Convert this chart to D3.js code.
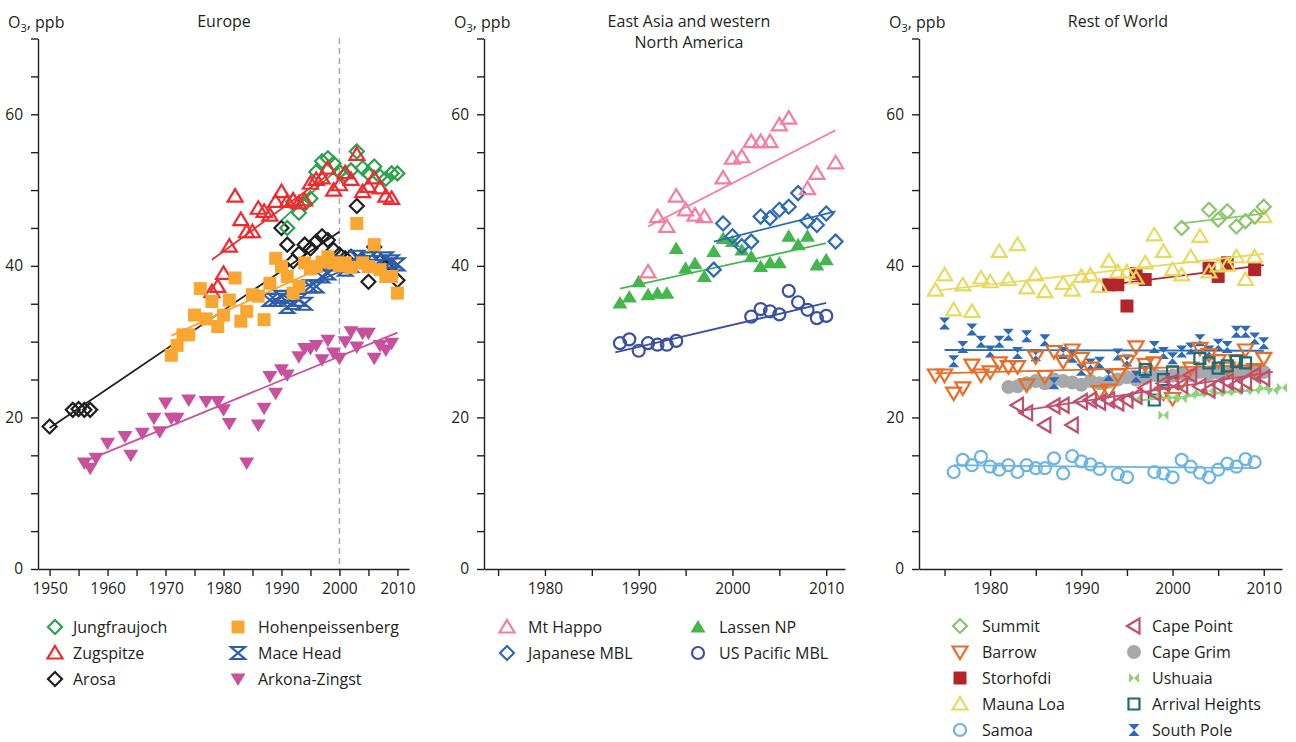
<!DOCTYPE html>
<html><head><meta charset="utf-8">
<script src="https://cdn.jsdelivr.net/npm/d3@7"></script>
<style>
body{margin:0;background:#fff}
text{font-family:"Open Sans","Noto Sans",sans-serif;fill:#231f20}
</style>
</head><body>
<svg id="c" width="1296" height="742"></svg>
<script>
// ---------- DATA ----------
// Europe
const jungfraujoch = [[1991,45],[1992,48.5],[1993,47],[1994,48.2],[1995,48.9],[1996,52.4],[1997,53.8],[1998,54.2],[1999,53.5],[2000,52.4],[2001,52],[2002,52.6],[2003,55.1],[2004,52.9],[2005,52.2],[2006,53.1],[2007,51.8],[2008,51.5],[2009,52.2],[2010,52.2]];
const zugspitze = [[1978,36.6],[1979,37.3],[1980,39],[1981,42.6],[1982,49.2],[1983,46.1],[1984,44.5],[1985,44.5],[1986,47.6],[1987,47.2],[1988,46.7],[1989,48.5],[1990,49.8],[1991,48.5],[1992,48.7],[1993,48.3],[1994,48.7],[1995,50.9],[1996,51.4],[1997,51.6],[1998,52.9],[1999,50],[2000,50.7],[2001,52.3],[2002,51.4],[2003,54.7],[2004,49.8],[2005,50.5],[2006,51.6],[2007,50.3],[2008,49.2],[2009,48.9]];
const arosa = [[1950,18.8],[1954,21],[1955,21.1],[1956,21],[1957,21],[1990,45],[1991,42.8],[1992,40.6],[1993,41.6],[1994,42.8],[1995,42.3],[1996,43.2],[1997,43.9],[1998,43.4],[1999,42.1],[2000,41.5],[2001,41],[2002,41.2],[2003,47.9],[2004,40.6],[2005,37.9],[2006,42.5],[2007,40.5],[2008,39.9],[2009,40],[2010,38.1]];
const hohenpeissenberg = [[1971,28.2],[1972,29.5],[1973,30.9],[1974,30.9],[1975,33.5],[1976,37],[1977,33],[1978,35.3],[1979,32],[1980,33.5],[1981,35.5],[1982,38.4],[1983,32.7],[1984,34],[1985,36.2],[1986,36],[1987,32.9],[1988,37.7],[1989,41],[1990,39.9],[1991,38.6],[1992,36.4],[1993,37.3],[1994,40.4],[1995,39.6],[1996,39.9],[1997,40.5],[1998,41.2],[1999,40.4],[2000,40],[2001,40.4],[2002,39.8],[2003,45.6],[2004,40.4],[2005,39.9],[2006,42.8],[2007,39.5],[2008,38.6],[2009,38.6],[2010,36.4]];
const maceHead = [[1988,35.5],[1989,35.5],[1990,35.9],[1991,34.6],[1992,35.1],[1993,35.5],[1994,35],[1995,37.3],[1996,37.3],[1997,38.6],[1998,39],[1999,40.5],[2000,40.2],[2001,39.5],[2002,40],[2003,41.2],[2004,40.5],[2005,41],[2006,40],[2007,40.5],[2008,41],[2009,40.6],[2010,40.2]];
const arkonaZingst = [[1956,14],[1957,13.3],[1958,14.6],[1960,16.6],[1963,17.5],[1964,15],[1966,17.9],[1968,19.9],[1969,18.1],[1970,21.9],[1971,19.9],[1972,19.9],[1974,22.3],[1977,22.1],[1979,22.1],[1980,21],[1981,19.2],[1984,14],[1986,19],[1987,21.2],[1988,25.4],[1989,23.2],[1990,26.3],[1991,25.6],[1993,28],[1994,29.1],[1995,29.1],[1996,29.5],[1997,27.6],[1998,30.2],[1999,28.5],[2000,27.8],[2001,30],[2002,31.3],[2003,29.3],[2004,31.1],[2005,31.1],[2006,27.8],[2007,29.5],[2008,28.9],[2009,29.8]];
const arosaTrend = [[1950,18.6],[2000,44.5]];
const jungfraujochTrend = [[1990,46],[2000,53]];
const zugspitzeTrend = [[1978,40.8],[1998,52]];
const hohenpeissenbergTrend = [[1971,30.8],[2000,40.8]];
const maceHeadTrend = [[1988,35.3],[2000,39.2]];
const maceHeadTrend2 = [[2000,40.3],[2010,41]];
const arkonaZingstTrend = [[1957,14.5],[2010,31.2]];

// East Asia and western North America
const mtHappo = [[1991,39.2],[1992,46.5],[1993,45.2],[1994,49.2],[1995,47.4],[1996,46.7],[1997,46.5],[1999,51.6],[2000,54.2],[2001,54.4],[2002,56.4],[2003,56.4],[2004,56.4],[2005,58.6],[2006,59.5],[2008,50.2],[2009,52.2],[2011,53.6]];
const japaneseMBL = [[1998,39.5],[1999,45.6],[2000,43.9],[2001,42.6],[2002,43.2],[2003,46.5],[2004,46.3],[2005,47.4],[2006,47.8],[2007,49.6],[2008,45.9],[2009,45.4],[2010,46.9],[2011,43.2]];
const lassenNP = [[1988,35.1],[1989,35.9],[1990,37.9],[1991,36.2],[1992,36.4],[1993,36.4],[1994,42.3],[1995,39.7],[1996,40.3],[1997,38.6],[1998,41.9],[1999,43.6],[2000,43.2],[2001,42.1],[2002,41.2],[2003,39.9],[2004,40.4],[2005,40.4],[2006,43.9],[2007,42.8],[2008,43.9],[2009,40.1],[2010,40.8]];
const usPacificMBL = [[1988,29.8],[1989,30.3],[1990,28.8],[1991,29.8],[1992,29.6],[1993,29.6],[1994,30.1],[2002,33.3],[2003,34.3],[2004,34],[2005,33.6],[2006,36.7],[2007,35.2],[2008,34.2],[2009,33.1],[2010,33.4]];
const mtHappoTrend = [[1991,45.2],[2011,57.9]];
const japaneseMBLTrend = [[1998,43.2],[2011,47.2]];
const lassenNPTrend = [[1988,37],[2010,43]];
const usPacificMBLTrend = [[1987.5,28.6],[2010,35.1]];

// Rest of World
const summit = [[2001,45],[2004,47.4],[2005,46.1],[2006,47.2],[2007,45.2],[2008,45.9],[2009,46.5],[2010,47.8]];
const barrow = [[1974,25.6],[1975,25.6],[1976,23.2],[1977,23.9],[1978,26.9],[1979,25.6],[1980,26],[1981,27.2],[1982,26.7],[1983,26.7],[1984,24.3],[1985,28],[1986,25.4],[1987,28.7],[1988,27.4],[1989,28.9],[1990,27.8],[1991,26.5],[1992,23.4],[1993,23.6],[1994,25.6],[1995,27.4],[1996,29.3],[1997,27],[1998,27.2],[1999,23.2],[2000,22.5],[2001,24.7],[2002,26.5],[2003,29.1],[2004,28.3],[2005,27.5],[2006,26.5],[2007,27.5],[2008,28.9],[2009,26.3],[2010,27.8]];
const storhofdi = [[1993,37.5],[1994,37.5],[1995,34.7],[1996,39],[1997,38.2],[2004,39.7],[2005,38.6],[2006,40.4],[2009,39.5]];
const maunaLoa = [[1974,36.8],[1975,38.8],[1976,34.2],[1977,37.5],[1978,34],[1979,38.4],[1980,37.9],[1981,41.9],[1982,38.2],[1983,42.8],[1984,37.1],[1985,38.8],[1986,36.6],[1988,37.7],[1989,36.8],[1990,38.6],[1991,38.8],[1992,37.3],[1993,40.6],[1994,39.2],[1995,39.2],[1996,38.4],[1997,40.4],[1998,44.1],[1999,41.9],[2000,39.5],[2001,38.8],[2002,41.2],[2003,43.9],[2004,39.2],[2005,40],[2006,40.1],[2007,41.2],[2008,38.2],[2009,41.2],[2010,46.5]];
const samoa = [[1976,12.8],[1977,14.4],[1978,13.7],[1979,14.8],[1980,13.5],[1981,13.1],[1982,13.7],[1983,12.8],[1984,13.7],[1985,13.3],[1986,13.3],[1987,14.6],[1988,12.6],[1989,14.9],[1990,14.2],[1991,13.8],[1992,13.2],[1994,12.5],[1995,12.1],[1998,12.8],[1999,12.6],[2000,12.1],[2001,14.4],[2002,13.5],[2003,12.7],[2004,12.1],[2005,13.1],[2006,13.9],[2007,13.5],[2008,14.5],[2009,14.1]];
const capePoint = [[1983,21.6],[1984,20.6],[1986,19],[1987,21.5],[1988,21.6],[1989,19],[1990,22.1],[1991,22.3],[1992,22],[1993,22.3],[1994,21.9],[1995,22.3],[1996,22.8],[1997,23.9],[1998,23.2],[1999,24.5],[2000,24.7],[2001,24.2],[2002,25.6],[2003,24.1],[2004,23.6],[2005,24.3],[2006,24.7],[2007,24.3],[2008,24.7],[2009,25.6],[2010,25.2]];
const capeGrim = [[1982,24],[1983,24.1],[1984,24.5],[1985,24.8],[1986,24.5],[1987,25],[1988,24.8],[1989,24.6],[1990,24.3],[1991,24.8],[1992,24.5],[1993,24.7],[1994,25],[1995,25.3],[1996,25],[1997,25.2],[1998,25.6],[1999,25.4],[2000,25.5],[2001,25.8],[2002,25.6],[2003,26],[2004,25.7],[2005,25.9],[2006,26],[2007,25.8],[2008,26.1],[2009,26.2],[2010,26]];
const ushuaia = [[1996,22.5],[1998,22.8],[1999,20.3],[2000,22.6],[2001,22.5],[2002,23],[2003,23.2],[2004,23.5],[2005,23.3],[2006,23.4],[2007,23.5],[2008,23.6],[2009,23.6],[2010,23.9],[2011,23.6],[2012,23.9]];
const arrivalHeights = [[1997,26.3],[1998,22.3],[1999,25],[2000,26],[2003,27.8],[2004,27.2],[2005,26.5],[2006,26.8],[2007,27.4],[2008,27.2]];
const southPole = [[1975,32.4],[1976,27.4],[1977,29.3],[1978,31.6],[1979,30],[1980,28.7],[1981,30],[1982,30.9],[1983,28.5],[1984,30.7],[1985,28.2],[1986,30.2],[1987,24.5],[1988,28.5],[1989,28],[1990,26.3],[1991,27],[1992,27.2],[1993,25.6],[1994,28.3],[1995,27.5],[1996,25.4],[1997,26],[1998,29.3],[1999,28.5],[2000,27.8],[2001,28.7],[2002,29.1],[2003,30.2],[2004,28.7],[2005,29.6],[2006,29.3],[2007,31.3],[2008,31.3],[2009,30.4],[2010,29.8]];
const summitTrend = [[2001,45.6],[2010,46.9]];
const barrowTrend = [[1974,25.8],[2010,26.9]];
const storhofdiTrend = [[1993,37.5],[2010,40.1]];
const maunaLoaTrend = [[1974.5,36.8],[2010,41.6]];
const samoaTrend = [[1976,13.7],[2009,13.3]];
const capePointTrend = [[1983,20.8],[2011,26]];
const capeGrimTrend = [[1982,24.3],[2010,26]];
const ushuaiaTrend = [[1996,22.2],[2011,23.8]];
const southPoleTrend = [[1975,28.9],[2010,28.8]];

const yTicks = [0,5,10,15,20,25,30,35,40,45,50,55,60,65,70];
const yTickLabels = [0,20,40,60];

// ---------- DRAWING ----------
const svg = d3.select('#c');
const y = d3.scaleLinear().domain([0,70]).range([569,38.5]);

const shapes = {
  diamond: 'M0,-7L7,0L0,7L-7,0Z',
  triUp: 'M0,-7L7.5,5.5L-7.5,5.5Z',
  triDown: 'M0,7L7.5,-5.5L-7.5,-5.5Z',
  triLeft: 'M-7,0L5.5,-7.5L5.5,7.5Z',
  square: 'M-6.5,-6.5H6.5V6.5H-6.5Z',
  squareOpen: 'M-5.5,-5.5H5.5V5.5H-5.5Z',
  circle: 'M-6,0a6,6 0 1,0 12,0a6,6 0 1,0 -12,0',
  dot: 'M-7,0a7,7 0 1,0 14,0a7,7 0 1,0 -14,0',
  hourglass: 'M-7,-6L7,-6L-7,6L7,6Z',
  hourglassSmall: 'M-5.5,-6L5.5,-6L-5.5,6L5.5,6Z',
  bowtie: 'M-5,-5L-5,5L5,-5L5,5Z'
};

function drawSeries(g, x, s) {
  const gg = g.append('g');
  gg.selectAll('path.m').data(s.data).join('path').attr('class','m')
    .attr('transform', d => `translate(${x(d[0])},${y(d[1])})`)
    .attr('d', shapes[s.shape])
    .attr('fill', s.filled ? s.color : 'none')
    .attr('stroke', s.filled ? 'none' : s.color)
    .attr('stroke-width', 2.2)
    .attr('stroke-linejoin','miter');
  (s.trends || []).forEach(t => {
    gg.append('path').datum(t)
      .attr('d', d3.line().x(d => x(d[0])).y(d => y(d[1])))
      .attr('fill','none').attr('stroke', s.trendColor || s.color).attr('stroke-width',1.8);
  });
}

function legendMark(g, s, cx, cy, label, tx) {
  g.append('path').attr('transform',`translate(${cx},${cy})`).attr('d', shapes[s.shape])
    .attr('fill', s.filled ? s.color : 'none')
    .attr('stroke', s.filled ? 'none' : s.color).attr('stroke-width', 2.2);
  g.append('text').attr('x', tx).attr('y', cy + 5.5).attr('font-size', 16).text(label);
}

function panel(cfg) {
  const g = svg.append('g');
  const x = d3.scaleLinear().domain(cfg.domain).range(cfg.range);
  const ya = d3.axisLeft(y).tickValues(yTicks).tickSize(7).tickSizeOuter(0)
    .tickFormat(d => yTickLabels.includes(d) ? d : '');
  const yg = g.append('g').attr('transform',`translate(${cfg.range[0]},0)`).call(ya);
  yg.selectAll('text').attr('font-size',15.5).attr('dx',-5).style('font-family','"Open Sans",sans-serif');
  yg.selectAll('line,path').attr('stroke','#231f20').attr('stroke-width',1.4);
  const xa = d3.axisBottom(x).tickValues(cfg.xTicks).tickSize(7).tickSizeOuter(0)
    .tickFormat(d => d % 10 === 0 ? d : '');
  const xg = g.append('g').attr('transform','translate(0,569)').call(xa);
  xg.selectAll('text').attr('font-size',15.5).attr('dy','0.95em').style('font-family','"Open Sans",sans-serif');
  xg.selectAll('line,path').attr('stroke','#231f20').attr('stroke-width',1.4);
  const lab = g.append('text').attr('x', cfg.range[0]-30).attr('y', 28).attr('font-size',16);
  lab.append('tspan').text('O');
  lab.append('tspan').attr('font-size',11).attr('dy',4).text('3');
  lab.append('tspan').attr('dy',-4).text(', ppb');
  cfg.title.forEach((t,i) => g.append('text').attr('x', cfg.titleX).attr('y', 27 + i*21)
    .attr('text-anchor','middle').attr('font-size',16).text(t));
  if (cfg.dashed) {
    g.append('line').attr('x1', x(cfg.dashed)).attr('x2', x(cfg.dashed))
      .attr('y1', 38).attr('y2', 569).attr('stroke','#a7a9ac').attr('stroke-width',1.5)
      .attr('stroke-dasharray','6,4');
  }
  cfg.series.forEach(s => drawSeries(g, x, s));
  cfg.legend.forEach(l => legendMark(g, l.s, l.cx, l.cy, l.label, l.tx));
}

// Europe
const sJung = {data: jungfraujoch, color:'#2ba24c', shape:'diamond', filled:false, trends:[jungfraujochTrend]};
const sZug = {data: zugspitze, color:'#ed2b30', shape:'triUp', filled:false, trends:[zugspitzeTrend]};
const sAro = {data: arosa, color:'#231f20', shape:'diamond', filled:false, trends:[arosaTrend]};
const sHoh = {data: hohenpeissenberg, color:'#f9a633', shape:'square', filled:true, trends:[hohenpeissenbergTrend]};
const sMace = {data: maceHead, color:'#2e5dab', shape:'hourglass', filled:false, trends:[maceHeadTrend, maceHeadTrend2]};
const sArk = {data: arkonaZingst, color:'#c8519d', shape:'triDown', filled:true, trends:[arkonaZingstTrend]};
panel({
  domain:[1948,2012], range:[38,409], xTicks:d3.range(1950,2011,5),
  title:['Europe'], titleX:224, dashed:2000,
  series:[sAro, sJung, sZug, sMace, sHoh, sArk],
  legend:[
    {s:sJung, cx:55, cy:627, label:'Jungfraujoch', tx:73},
    {s:sZug, cx:55, cy:653, label:'Zugspitze', tx:73},
    {s:sAro, cx:55, cy:679, label:'Arosa', tx:73},
    {s:sHoh, cx:238, cy:627, label:'Hohenpeissenberg', tx:258},
    {s:sMace, cx:238, cy:653, label:'Mace Head', tx:258},
    {s:sArk, cx:238, cy:679, label:'Arkona-Zingst', tx:258}
  ]
});

// East Asia & western North America
const sHappo = {data: mtHappo, color:'#f47e9f', shape:'triUp', filled:false, trends:[mtHappoTrend]};
const sJap = {data: japaneseMBL, color:'#2b6cb4', shape:'diamond', filled:false, trends:[japaneseMBLTrend]};
const sLas = {data: lassenNP, color:'#45b64e', shape:'triUp', filled:true, trends:[lassenNPTrend]};
const sUS = {data: usPacificMBL, color:'#3a50a2', shape:'circle', filled:false, trends:[usPacificMBLTrend]};
panel({
  domain:[1973.5,2012], range:[484,845], xTicks:d3.range(1975,2011,5),
  title:['East Asia and western','North America'], titleX:689,
  series:[sLas, sUS, sJap, sHappo],
  legend:[
    {s:sHappo, cx:507, cy:627, label:'Mt Happo', tx:528},
    {s:sJap, cx:507, cy:653, label:'Japanese MBL', tx:528},
    {s:sLas, cx:698, cy:627, label:'Lassen NP', tx:719},
    {s:sUS, cx:698, cy:653, label:'US Pacific MBL', tx:719}
  ]
});

// Rest of World
const sSum = {data: summit, color:'#8cc66c', shape:'diamond', filled:false, trends:[summitTrend]};
const sBar = {data: barrow, color:'#e66e27', shape:'triDown', filled:false, trends:[barrowTrend]};
const sSto = {data: storhofdi, color:'#b3242b', shape:'square', filled:true, trends:[storhofdiTrend]};
const sMLO = {data: maunaLoa, color:'#e8d95f', shape:'triUp', filled:false, trends:[maunaLoaTrend]};
const sSam = {data: samoa, color:'#6cb4e2', shape:'circle', filled:false, trends:[samoaTrend]};
const sCPt = {data: capePoint, color:'#c04f6d', shape:'triLeft', filled:false, trends:[capePointTrend]};
const sCGr = {data: capeGrim, color:'#a6a8ab', shape:'dot', filled:true, trends:[capeGrimTrend]};
const sUsh = {data: ushuaia, color:'#92d07c', shape:'bowtie', filled:true, trends:[ushuaiaTrend]};
const sArr = {data: arrivalHeights, color:'#1d6b74', shape:'squareOpen', filled:false, trends:[]};
const sSP = {data: southPole, color:'#2e6bb6', shape:'hourglassSmall', filled:true, trends:[southPoleTrend]};
panel({
  domain:[1972.2,2012], range:[919,1282], xTicks:d3.range(1975,2011,5),
  title:['Rest of World'], titleX:1118,
  series:[sCGr, sSP, sBar, sArr, sUsh, sCPt, sSto, sMLO, sSum, sSam],
  legend:[
    {s:sSum, cx:960, cy:626, label:'Summit', tx:982},
    {s:sBar, cx:960, cy:652, label:'Barrow', tx:982},
    {s:sSto, cx:960, cy:678, label:'Storhofdi', tx:982},
    {s:sMLO, cx:960, cy:704, label:'Mauna Loa', tx:982},
    {s:sSam, cx:960, cy:730, label:'Samoa', tx:982},
    {s:sCPt, cx:1134, cy:626, label:'Cape Point', tx:1152},
    {s:sCGr, cx:1134, cy:652, label:'Cape Grim', tx:1152},
    {s:sUsh, cx:1134, cy:678, label:'Ushuaia', tx:1152},
    {s:sArr, cx:1134, cy:704, label:'Arrival Heights', tx:1152},
    {s:sSP, cx:1134, cy:730, label:'South Pole', tx:1152}
  ]
});
</script>
</body></html>
